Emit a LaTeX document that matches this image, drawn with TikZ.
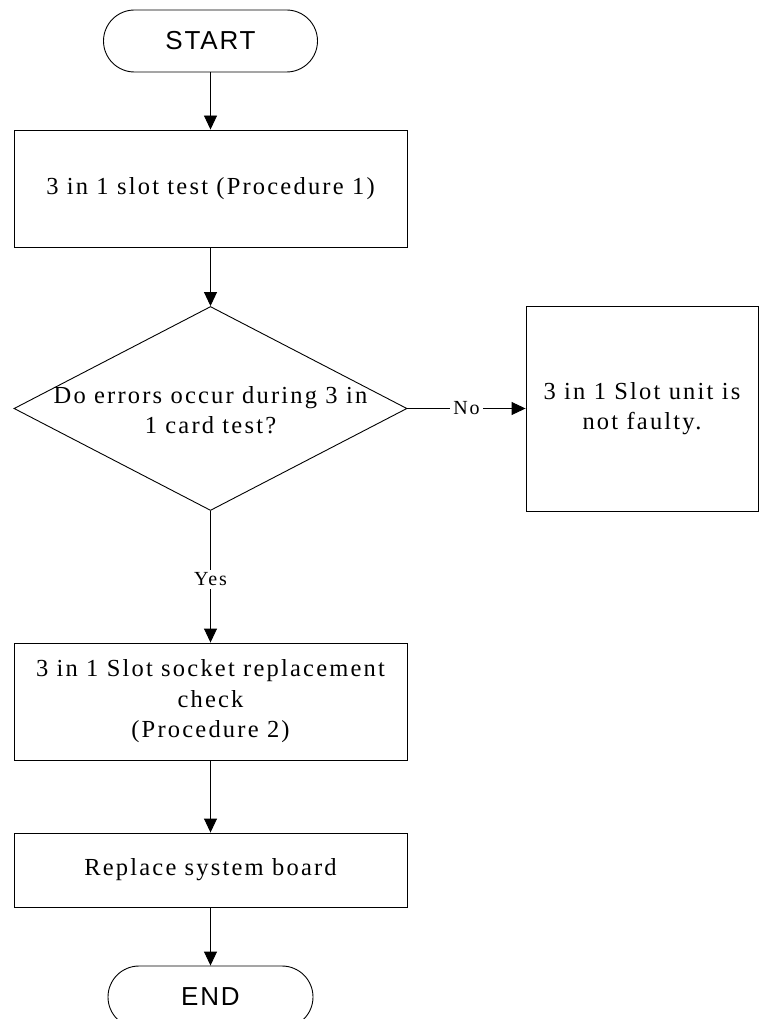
\documentclass[tikz,border=0pt]{standalone}
\usepackage{fontspec}
\setmainfont{Liberation Serif}[LetterSpace=9]
\newfontfamily\termfont{Liberation Sans}[LetterSpace=7]
\usetikzlibrary{shapes.geometric,arrows.meta}
\begin{document}
\begin{tikzpicture}[x=1pt,y=-1pt,
  every node/.style={inner sep=0pt},
  box/.style={draw,line width=0.9pt,minimum width=393pt,align=center,font=\fontsize{24.5}{30.5}\selectfont},
  term/.style={draw,line width=0.9pt,rounded corners=31pt,minimum height=62pt,font=\termfont\fontsize{26}{30}\selectfont},
  dia/.style={draw,line width=0.9pt,shape=diamond,minimum width=393pt,minimum height=204pt,inner sep=0pt},
  txt/.style={align=center,font=\fontsize{24.5}{30}\selectfont},
  arr/.style={line width=0.9pt,-{Triangle[length=14pt,width=13pt]}},
  lab/.style={fill=white,inner sep=3pt,font=\fontsize{20}{22}\selectfont}]
\fill[white] (0,0) rectangle (759,1019);
\useasboundingbox (0,0) rectangle (759,1019);
\node[term,minimum width=214pt] (start) at (210.5,41) {START};
\node[box,minimum height=117pt] (p1) at (210.5,188.5) {3 in 1 slot test (Procedure 1)};
\node[dia] (dec) at (210.5,408.5) {};
\node[txt] (dectext) at (210.5,410) {Do errors occur during 3 in\\1 card test?};
\node[box,minimum width=232pt,minimum height=205pt] (nobox) at (642,408.5) {3 in 1 Slot unit is\\not faulty.};
\node[box,minimum height=117pt] (p2) at (210.5,701.5) {3 in 1 Slot socket replacement\\check\\(Procedure 2)};
\node[box,minimum height=74pt] (rep) at (210.5,870) {Replace system board};
\node[term,minimum width=205pt] (end) at (210.5,997) {END};
\draw[arr] (start) -- (p1);
\draw[arr] (p1) -- (dec);
\draw[arr] (dec.east) -- node[lab]{No} (nobox.west);
\draw[arr] (dec.south) -- node[lab,pos=0.52]{Yes} (p2.north);
\draw[arr] (p2) -- (rep);
\draw[arr] (rep) -- (end);
\end{tikzpicture}
\end{document}
